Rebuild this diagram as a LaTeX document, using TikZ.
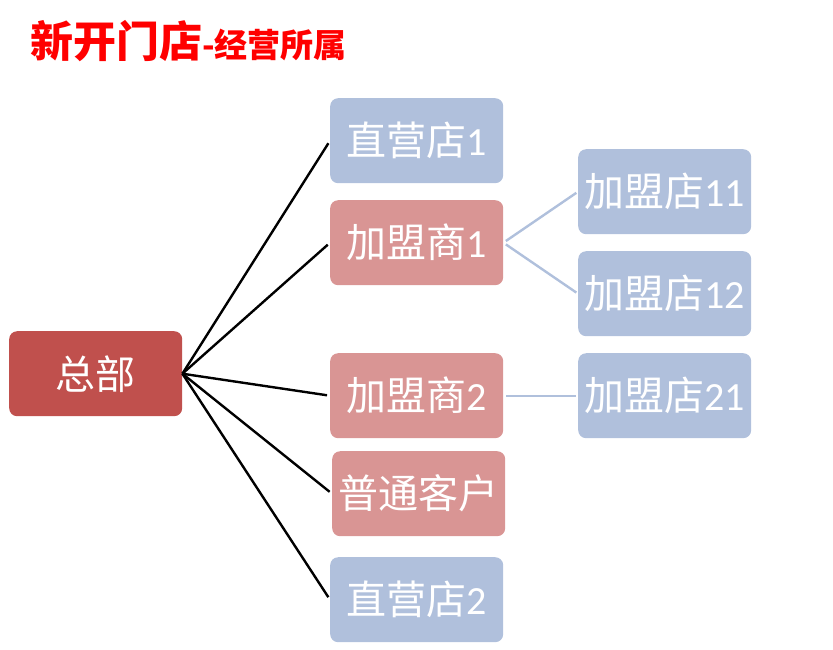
\documentclass[tikz,border=0pt]{standalone}
\usepackage{fontspec}
\setmainfont{Carlito}
\newfontfamily\cjk{Noto Sans CJK SC}
\usepackage{tikz}
\definecolor{rootred}{RGB}{192,80,77}
\definecolor{agentpink}{RGB}{217,149,148}
\definecolor{shopblue}{RGB}{176,192,220}
\tikzset{
    shopbox/.style={rounded corners=8pt, minimum width=173pt, minimum height=85pt,
        inner sep=0pt, anchor=north west, text=white,
        font=\fontsize{40}{42}\selectfont},
    bluebox/.style={shopbox, fill=shopblue},
    pinkbox/.style={shopbox, fill=agentpink},
    rootline/.style={black, line width=2.4pt, shorten >=3pt},
    subline/.style={draw=shopblue, line width=2.4pt, shorten <=3pt, shorten >=2pt},
}

\begin{document}
\begin{tikzpicture}[x=1pt,y=-1pt]
		\useasboundingbox (0,0) rectangle (833,649);
		% title
		\node[anchor=base west, inner sep=0pt, text=red] (title) at (30,57)
			{\cjk\bfseries\fontsize{43}{45}\selectfont 新开门店\fontsize{33}{35}\selectfont -经营所属};
		% boxes
		\node[shopbox, fill=rootred] (hq) at (9,331) {\cjk 总部};
		\node[bluebox] (direct1) at (330,98) {{\cjk 直营店}1};
		\node[pinkbox] (agent1) at (330,200) {{\cjk 加盟商}1};
		\node[pinkbox] (agent2) at (330,353) {{\cjk 加盟商}2};
		\node[pinkbox] (client) at (332,451) {\cjk 普通客户};
		\node[bluebox] (direct2) at (330,557) {{\cjk 直营店}2};
		\node[bluebox] (shop11) at (578,149) {{\cjk 加盟店}11};
		\node[bluebox] (shop12) at (578,251) {{\cjk 加盟店}12};
		\node[bluebox] (shop21) at (578,353) {{\cjk 加盟店}21};
		% connectors
		\draw[rootline] (hq.east) -- (direct1.west);
		\draw[rootline] (hq.east) -- (agent1.west);
		\draw[rootline] (hq.east) -- (agent2.west);
		\draw[rootline] (hq.east) -- (client.west);
		\draw[rootline] (hq.east) -- (direct2.west);
		\draw[subline] (agent1.east) -- (shop11.west);
		\draw[subline] (agent1.east) -- (shop12.west);
		\draw[subline] (agent2.east) -- (shop21.west);
\end{tikzpicture}
\end{document}
